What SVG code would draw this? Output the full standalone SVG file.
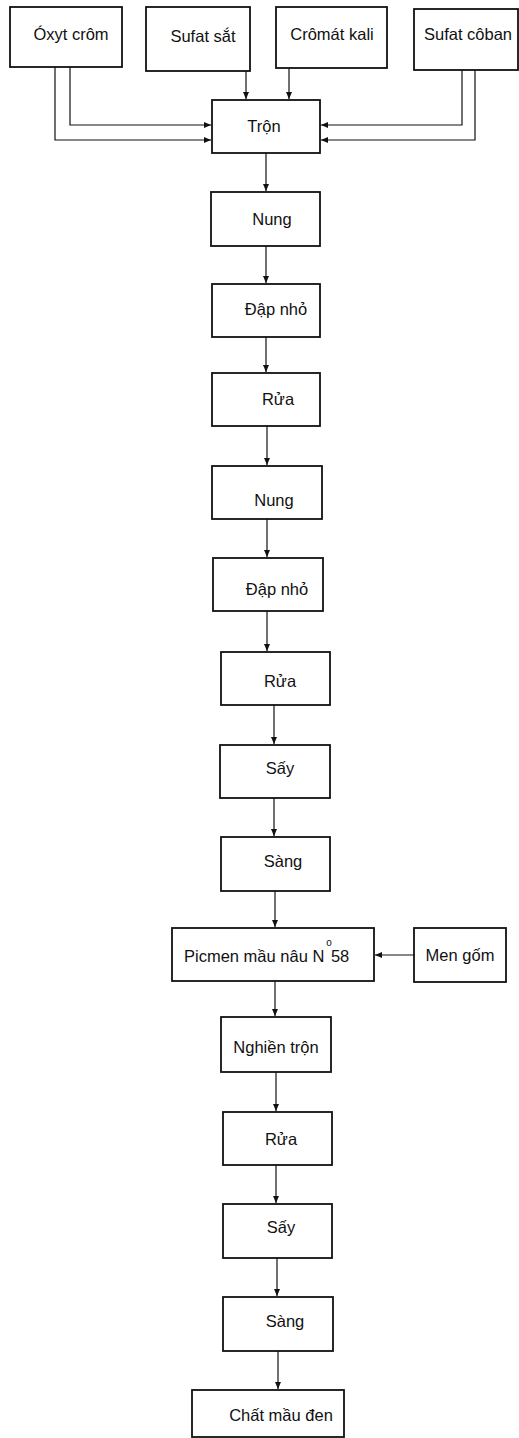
<svg xmlns="http://www.w3.org/2000/svg" width="519" height="1438" viewBox="0 0 519 1438">
<style>
.box{fill:#fff;stroke:#111;stroke-width:1.8}
.lbl{font-family:"Liberation Sans",Arial,sans-serif;font-size:16.5px;fill:#111;text-anchor:middle}
.con{fill:none;stroke:#111;stroke-width:1.2}
</style>
<defs>
<marker id="ah" markerUnits="userSpaceOnUse" markerWidth="7" markerHeight="7" refX="7" refY="3.5" orient="auto">
<path d="M0,0.5 L7,3.5 L0,6.5 z" fill="#111"/>
</marker>
</defs>
<rect width="519" height="1438" fill="#fff"/>
<g id="connectors">
<path class="con" d="M70,67 V125 H211" marker-end="url(#ah)"/>
<path class="con" d="M55,67 V140 H211" marker-end="url(#ah)"/>
<path class="con" d="M246,71 V99" marker-end="url(#ah)"/>
<path class="con" d="M289,68 V99" marker-end="url(#ah)"/>
<path class="con" d="M462,70 V125 H321" marker-end="url(#ah)"/>
<path class="con" d="M475,70 V140 H321" marker-end="url(#ah)"/>
<path class="con" d="M266,153 V191" marker-end="url(#ah)"/>
<path class="con" d="M266,246 V283" marker-end="url(#ah)"/>
<path class="con" d="M266,337 V372" marker-end="url(#ah)"/>
<path class="con" d="M267,426 V465" marker-end="url(#ah)"/>
<path class="con" d="M267,519 V557" marker-end="url(#ah)"/>
<path class="con" d="M267,611 V651" marker-end="url(#ah)"/>
<path class="con" d="M274,705 V744" marker-end="url(#ah)"/>
<path class="con" d="M274,798 V836" marker-end="url(#ah)"/>
<path class="con" d="M275,891 V927" marker-end="url(#ah)"/>
<path class="con" d="M275,981 V1016" marker-end="url(#ah)"/>
<path class="con" d="M276,1072 V1111" marker-end="url(#ah)"/>
<path class="con" d="M276,1165 V1203" marker-end="url(#ah)"/>
<path class="con" d="M277,1258 V1296" marker-end="url(#ah)"/>
<path class="con" d="M278,1351 V1389" marker-end="url(#ah)"/>
<path class="con" d="M414,955 H375" marker-end="url(#ah)"/>
</g>
<g id="oxyt-crom"><rect class="box" x="10" y="7" width="112" height="60"/><text class="lbl" x="71" y="40">Óxyt crôm</text></g>
<g id="sufat-sat"><rect class="box" x="146" y="7" width="104" height="64"/><text class="lbl" x="203" y="42">Sufat sắt</text></g>
<g id="cromat-kali"><rect class="box" x="276" y="7" width="111" height="61"/><text class="lbl" x="332" y="40">Crômát kali</text></g>
<g id="sufat-coban"><rect class="box" x="414" y="9" width="104" height="61"/><text class="lbl" x="468" y="40">Sufat côban</text></g>
<g id="tron"><rect class="box" x="212" y="100" width="108" height="53"/><text class="lbl" x="264" y="132">Trộn</text></g>
<g id="nung-1"><rect class="box" x="211" y="192" width="109" height="54"/><text class="lbl" x="272" y="225">Nung</text></g>
<g id="dap-nho-1"><rect class="box" x="212" y="284" width="108" height="53"/><text class="lbl" x="276" y="315">Đập nhỏ</text></g>
<g id="rua-1"><rect class="box" x="212" y="373" width="108" height="53"/><text class="lbl" x="278" y="405">Rửa</text></g>
<g id="nung-2"><rect class="box" x="212" y="466" width="110" height="53"/><text class="lbl" x="274" y="506">Nung</text></g>
<g id="dap-nho-2"><rect class="box" x="213" y="558" width="110" height="53"/><text class="lbl" x="277" y="595">Đập nhỏ</text></g>
<g id="rua-2"><rect class="box" x="221" y="652" width="109" height="53"/><text class="lbl" x="280" y="687">Rửa</text></g>
<g id="say-1"><rect class="box" x="220" y="745" width="110" height="53"/><text class="lbl" x="280" y="774">Sấy</text></g>
<g id="sang-1"><rect class="box" x="221" y="837" width="109" height="54"/><text class="lbl" x="283" y="867">Sàng</text></g>
<g id="picmen"><rect class="box" x="172" y="928" width="202" height="53"/><text class="lbl" x="184" y="962" style="text-anchor:start">Picmen mầu nâu N<tspan font-size="10" dx="2" dy="-16">o</tspan><tspan dx="-1" dy="16">58</tspan></text></g>
<g id="men-gom"><rect class="box" x="414" y="928" width="92" height="54"/><text class="lbl" x="460" y="961">Men gốm</text></g>
<g id="nghien-tron"><rect class="box" x="221" y="1017" width="110" height="55"/><text class="lbl" x="276" y="1053">Nghiền trộn</text></g>
<g id="rua-3"><rect class="box" x="223" y="1112" width="109" height="53"/><text class="lbl" x="281" y="1145">Rửa</text></g>
<g id="say-2"><rect class="box" x="223" y="1204" width="109" height="54"/><text class="lbl" x="281" y="1233">Sấy</text></g>
<g id="sang-2"><rect class="box" x="223" y="1297" width="110" height="54"/><text class="lbl" x="285" y="1327">Sàng</text></g>
<g id="chat-mau-den"><rect class="box" x="192" y="1390" width="152" height="47"/><text class="lbl" x="281" y="1421">Chất mầu đen</text></g>
</svg>
